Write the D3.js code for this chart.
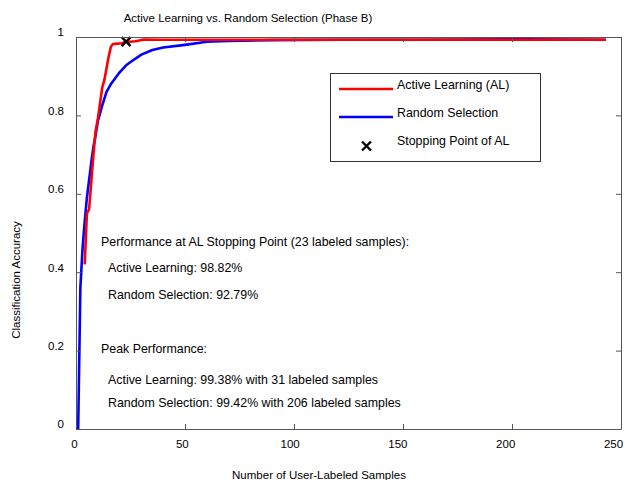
<!DOCTYPE html>
<html>
<head>
<meta charset="utf-8">
<script src="https://cdn.jsdelivr.net/npm/d3@7"></script>
<style>
  body { margin: 0; background: #fff; }
  text { font-family: "Liberation Sans", Arial, sans-serif; fill: #000; }
</style>
</head>
<body>
<div id="container"></div>
<script>
let w = 626;
let h = 480;

// data
let alX = [4, 5, 6, 7, 8, 9, 10, 11, 12, 13, 14, 15, 16, 17, 19, 21, 23, 25, 27, 29, 31, 40, 60, 100, 150, 200, 243];
let alY = [0.42, 0.55, 0.56, 0.63, 0.70, 0.76, 0.79, 0.83, 0.87, 0.89, 0.92, 0.95, 0.975, 0.982, 0.983, 0.984, 0.9882, 0.988, 0.989, 0.991, 0.9938, 0.993, 0.993, 0.993, 0.993, 0.993, 0.993];
let rsX = [1, 2, 3, 4, 5, 6, 7, 8, 9, 10, 11, 12, 14, 16, 18, 20, 23, 26, 30, 35, 40, 50, 60, 70, 90, 120, 160, 206, 243];
let rsY = [0, 0.36, 0.46, 0.53, 0.59, 0.635, 0.68, 0.72, 0.75, 0.785, 0.805, 0.825, 0.86, 0.88, 0.895, 0.91, 0.9279, 0.94, 0.955, 0.967, 0.973, 0.98, 0.988, 0.99, 0.992, 0.993, 0.993, 0.9942, 0.993];
let stopPoint = [23, 0.9882];
let xTicks = [0, 50, 100, 150, 200, 250];
let yTicks = [0, 0.2, 0.4, 0.6, 0.8, 1];
let legendLabels = ["Active Learning (AL)", "Random Selection", "Stopping Point of AL"];
let notes = [
    "Performance at AL Stopping Point (23 labeled samples):",
    "Active Learning: 98.82%",
    "Random Selection: 92.79%",
    "Peak Performance:",
    "Active Learning: 99.38% with 31 labeled samples",
    "Random Selection: 99.42% with 206 labeled samples"
];

let padL = 76, padR = 621, padT = 37, padB = 429;

let x = d3.scaleLinear().domain([0, 250]).range([padL, padR]);
let y = d3.scaleLinear().domain([0, 1]).range([padB, padT]);
// tick labels sit a little left of their ticks in the original
let xl = d3.scaleLinear().domain([0, 250]).range([74, 613]);

let viz = d3.select("#container").append("svg")
    .attr("width", w)
    .attr("height", h);

// lines
let line = d3.line().x(d => x(d[0])).y(d => y(d[1]));
let rs = rsX.map((v, i) => [v, rsY[i]]);
let al = alX.map((v, i) => [v, alY[i]]);

viz.append("path").datum(rs)
    .attr("d", line)
    .attr("fill", "none")
    .attr("stroke", "#0000ff")
    .attr("stroke-width", 2.6)
    .attr("stroke-linejoin", "round");
viz.append("path").datum(al)
    .attr("d", line)
    .attr("fill", "none")
    .attr("stroke", "#ff0000")
    .attr("stroke-width", 2.6)
    .attr("stroke-linejoin", "round");

function cross(g, cx, cy, s) {
    g.append("path")
        .attr("d", `M${cx - s},${cy - s}L${cx + s},${cy + s}M${cx - s},${cy + s}L${cx + s},${cy - s}`)
        .attr("stroke", "#000")
        .attr("stroke-width", 2.4)
        .attr("fill", "none");
}
cross(viz, x(stopPoint[0]), y(stopPoint[1]), 4.5);

// axes box with inward ticks on all sides
let axColor = "#555";
viz.append("g").attr("transform", `translate(0,${padB})`)
    .call(d3.axisBottom(x).tickValues(xTicks).tickSizeInner(-5).tickSizeOuter(0).tickPadding(11))
    .call(g => g.select(".domain").attr("stroke", axColor))
    .call(g => g.selectAll("line").attr("stroke", axColor))
    .call(g => g.selectAll("text").attr("font-size", 11.5).attr("font-family", "Liberation Sans").attr("fill", "#111")
        .attr("x", d => xl(d) - x(d)));
viz.append("g").attr("transform", `translate(0,${padT})`)
    .call(d3.axisTop(x).tickValues(xTicks).tickSizeInner(-5).tickSizeOuter(0).tickFormat(""))
    .call(g => g.select(".domain").attr("stroke", axColor))
    .call(g => g.selectAll("line").attr("stroke", axColor));
viz.append("g").attr("transform", `translate(${padL},0)`)
    .call(d3.axisLeft(y).tickValues(yTicks).tickSizeInner(-5).tickSizeOuter(0).tickPadding(12).tickFormat(d3.format("~g")))
    .call(g => g.select(".domain").attr("stroke", axColor))
    .call(g => g.selectAll("line").attr("stroke", axColor))
    .call(g => g.selectAll("text").attr("font-size", 11.5).attr("font-family", "Liberation Sans").attr("fill", "#111").attr("dy", "-0.1em"));
viz.append("g").attr("transform", `translate(${padR},0)`)
    .call(d3.axisRight(y).tickValues(yTicks).tickSizeInner(-5).tickSizeOuter(0).tickFormat(""))
    .call(g => g.select(".domain").attr("stroke", axColor))
    .call(g => g.selectAll("line").attr("stroke", axColor));

// titles
viz.append("text")
    .attr("x", 248).attr("y", 22)
    .attr("text-anchor", "middle")
    .attr("font-size", 11.5)
    .text("Active Learning vs. Random Selection (Phase B)");
viz.append("text")
    .attr("x", 319).attr("y", 479)
    .attr("text-anchor", "middle")
    .attr("font-size", 11.5)
    .text("Number of User-Labeled Samples");
viz.append("text")
    .attr("transform", "translate(20,280) rotate(-90)")
    .attr("text-anchor", "middle")
    .attr("font-size", 11.5)
    .text("Classification Accuracy");

// annotations
let noteX = [101, 108, 108, 101, 108, 108];
let noteY = [246, 272, 299, 353, 384, 407];
notes.forEach((t, i) => {
    viz.append("text")
        .attr("x", noteX[i]).attr("y", noteY[i])
        .attr("font-size", 12.4)
        .text(t);
});

// legend
let lg = viz.append("g");
lg.append("rect")
    .attr("x", 330.5).attr("y", 73.5)
    .attr("width", 210).attr("height", 88)
    .attr("fill", "#fff")
    .attr("stroke", "#333");
let legendColors = ["#ff0000", "#0000ff"];
let legendRowY = [89, 117, 145];
legendColors.forEach((c, i) => {
    lg.append("line")
        .attr("x1", 339).attr("x2", 393)
        .attr("y1", legendRowY[i]).attr("y2", legendRowY[i])
        .attr("stroke", c).attr("stroke-width", 2.6);
});
cross(lg, 366.5, 146, 4.5);
legendLabels.forEach((t, i) => {
    lg.append("text")
        .attr("x", 397).attr("y", legendRowY[i])
        .attr("font-size", 12.4)
        .text(t);
});
</script>
</body>
</html>
